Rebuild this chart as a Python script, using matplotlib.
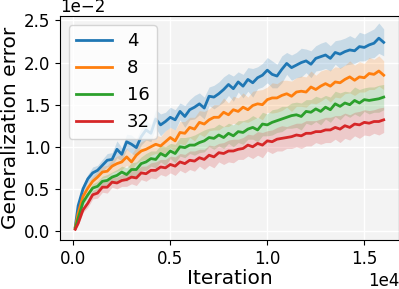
import matplotlib
matplotlib.use("Agg")
import matplotlib.pyplot as plt
import numpy as np

iterations = [100] + list(range(250, 16001, 250))

labels = ["4", "8", "16", "32"]
colors = ["#1f77b4", "#ff7f0e", "#2ca02c", "#d62728"]

err_4 = [0.05, 0.30, 0.50, 0.62, 0.69, 0.72, 0.78, 0.84, 0.85, 0.97, 0.91, 1.06, 1.03, 0.99, 1.12, 1.20, 1.16,
         1.33, 1.26, 1.30, 1.35, 1.32, 1.42, 1.36, 1.44, 1.47, 1.51, 1.46, 1.60, 1.59, 1.63, 1.68, 1.74,
         1.69, 1.77, 1.72, 1.80, 1.76, 1.82, 1.85, 1.91, 1.86, 1.84, 1.92, 1.99, 1.94, 1.97, 2.00, 2.02,
         1.98, 2.05, 2.07, 2.09, 2.05, 2.12, 2.10, 2.13, 2.15, 2.14, 2.19, 2.18, 2.21, 2.23, 2.29, 2.24]
err_8 = [0.04, 0.21, 0.41, 0.51, 0.59, 0.64, 0.70, 0.71, 0.77, 0.80, 0.82, 0.88, 0.82, 0.90, 0.95, 0.97, 1.00,
         1.03, 1.01, 1.06, 1.11, 1.07, 1.17, 1.16, 1.23, 1.21, 1.29, 1.27, 1.32, 1.35, 1.35, 1.41, 1.38,
         1.44, 1.42, 1.47, 1.44, 1.49, 1.51, 1.50, 1.56, 1.58, 1.58, 1.61, 1.63, 1.60, 1.65, 1.66, 1.65,
         1.71, 1.68, 1.72, 1.75, 1.72, 1.77, 1.76, 1.80, 1.83, 1.79, 1.83, 1.82, 1.87, 1.86, 1.90, 1.85]
err_16 = [0.03, 0.15, 0.34, 0.43, 0.51, 0.53, 0.59, 0.60, 0.64, 0.66, 0.70, 0.67, 0.73, 0.73, 0.80, 0.82, 0.86,
          0.85, 0.92, 0.89, 0.95, 0.92, 1.00, 0.99, 1.02, 1.02, 1.05, 1.07, 1.11, 1.10, 1.14, 1.11, 1.16,
          1.13, 1.18, 1.17, 1.21, 1.23, 1.20, 1.27, 1.26, 1.29, 1.31, 1.33, 1.35, 1.37, 1.38, 1.36, 1.42,
          1.41, 1.45, 1.42, 1.47, 1.44, 1.51, 1.48, 1.52, 1.50, 1.55, 1.52, 1.56, 1.55, 1.56, 1.57, 1.59]
err_32 = [0.02, 0.09, 0.25, 0.33, 0.43, 0.45, 0.52, 0.52, 0.58, 0.57, 0.60, 0.61, 0.64, 0.63, 0.69, 0.68, 0.72,
          0.72, 0.76, 0.75, 0.79, 0.77, 0.82, 0.80, 0.84, 0.83, 0.87, 0.85, 0.90, 0.88, 0.93, 0.92, 0.95,
          0.95, 0.97, 0.98, 1.02, 1.00, 1.04, 1.02, 1.07, 1.06, 1.09, 1.10, 1.11, 1.12, 1.14, 1.13, 1.16,
          1.16, 1.18, 1.18, 1.20, 1.20, 1.23, 1.21, 1.25, 1.23, 1.27, 1.26, 1.29, 1.28, 1.30, 1.30, 1.32]

std_4 = [0.01, 0.03, 0.05, 0.05, 0.07, 0.06, 0.07, 0.08, 0.08, 0.10, 0.08, 0.09, 0.11, 0.10, 0.10, 0.12, 0.10,
         0.11, 0.13, 0.11, 0.12, 0.12, 0.10, 0.13, 0.12, 0.14, 0.13, 0.13, 0.11, 0.14, 0.14, 0.15, 0.13,
         0.15, 0.12, 0.14, 0.14, 0.17, 0.13, 0.14, 0.15, 0.16, 0.14, 0.16, 0.13, 0.15, 0.15, 0.17, 0.14,
         0.16, 0.15, 0.16, 0.16, 0.15, 0.14, 0.17, 0.16, 0.17, 0.15, 0.17, 0.16, 0.16, 0.17, 0.18, 0.16]
std_8 = [0.01, 0.03, 0.04, 0.06, 0.06, 0.07, 0.07, 0.07, 0.08, 0.09, 0.09, 0.10, 0.09, 0.10, 0.11, 0.12, 0.10,
         0.11, 0.11, 0.13, 0.12, 0.13, 0.13, 0.14, 0.12, 0.14, 0.14, 0.15, 0.13, 0.15, 0.15, 0.17, 0.14,
         0.16, 0.16, 0.17, 0.15, 0.17, 0.16, 0.18, 0.15, 0.18, 0.17, 0.18, 0.16, 0.18, 0.17, 0.18, 0.18,
         0.19, 0.17, 0.18, 0.17, 0.19, 0.18, 0.18, 0.17, 0.19, 0.18, 0.18, 0.17, 0.19, 0.18, 0.18, 0.17]
std_16 = [0.01, 0.02, 0.04, 0.04, 0.05, 0.06, 0.06, 0.07, 0.06, 0.07, 0.07, 0.08, 0.08, 0.09, 0.08, 0.10, 0.09,
          0.10, 0.10, 0.11, 0.09, 0.11, 0.11, 0.12, 0.10, 0.12, 0.12, 0.13, 0.11, 0.13, 0.13, 0.13, 0.12,
          0.13, 0.13, 0.14, 0.12, 0.14, 0.14, 0.14, 0.13, 0.15, 0.14, 0.15, 0.13, 0.15, 0.15, 0.16, 0.14,
          0.15, 0.15, 0.16, 0.14, 0.15, 0.15, 0.16, 0.14, 0.15, 0.16, 0.16, 0.14, 0.16, 0.15, 0.16, 0.15]
std_32 = [0.01, 0.02, 0.03, 0.05, 0.05, 0.06, 0.06, 0.07, 0.06, 0.07, 0.07, 0.08, 0.08, 0.09, 0.08, 0.09, 0.09,
          0.10, 0.09, 0.10, 0.10, 0.11, 0.10, 0.11, 0.11, 0.12, 0.10, 0.12, 0.12, 0.13, 0.11, 0.13, 0.13,
          0.14, 0.12, 0.13, 0.13, 0.14, 0.14, 0.15, 0.12, 0.14, 0.14, 0.15, 0.13, 0.14, 0.14, 0.15, 0.15,
          0.15, 0.13, 0.15, 0.15, 0.15, 0.14, 0.16, 0.15, 0.15, 0.14, 0.16, 0.15, 0.15, 0.14, 0.16, 0.15]

series = [err_4, err_8, err_16, err_32]
stds = [std_4, std_8, std_16, std_32]

fig = plt.figure(figsize=(3.99, 2.89), dpi=100)
ax = fig.add_axes([0.1499, 0.1696, 0.8504, 0.775])
ax.set_facecolor("#f3f3f3")
ax.grid(True, color="white", linewidth=1.0)
ax.set_axisbelow(True)

x = np.array(iterations)
for vals, sd, lab, col in zip(series, stds, labels, colors):
    m = np.array(vals) * 1e-2
    s = np.array(sd) * 1e-2
    ax.fill_between(x, m - s, m + s, color=col, alpha=0.2, linewidth=0)
    ax.plot(x, m, color=col, linewidth=2, label=lab)

ax.set_xlim(-695, 16795)
ax.set_ylim(-0.00107, 0.02553)
ax.set_xticks([0, 5000, 10000, 15000])
ax.set_yticks([0, 0.005, 0.01, 0.015, 0.02, 0.025])
ax.ticklabel_format(axis="both", style="sci", scilimits=(0, 0))
ax.tick_params(labelsize=12)
ax.xaxis.get_offset_text().set_fontsize(12)
ax.yaxis.get_offset_text().set_fontsize(12)
ax.set_xlabel("Iteration", fontsize=14.5, labelpad=1)
ax.set_ylabel("Generalization error", fontsize=14.5, labelpad=2.5)
ax.legend(loc="upper left", fontsize=13)

fig.savefig("out.png", dpi=100)
